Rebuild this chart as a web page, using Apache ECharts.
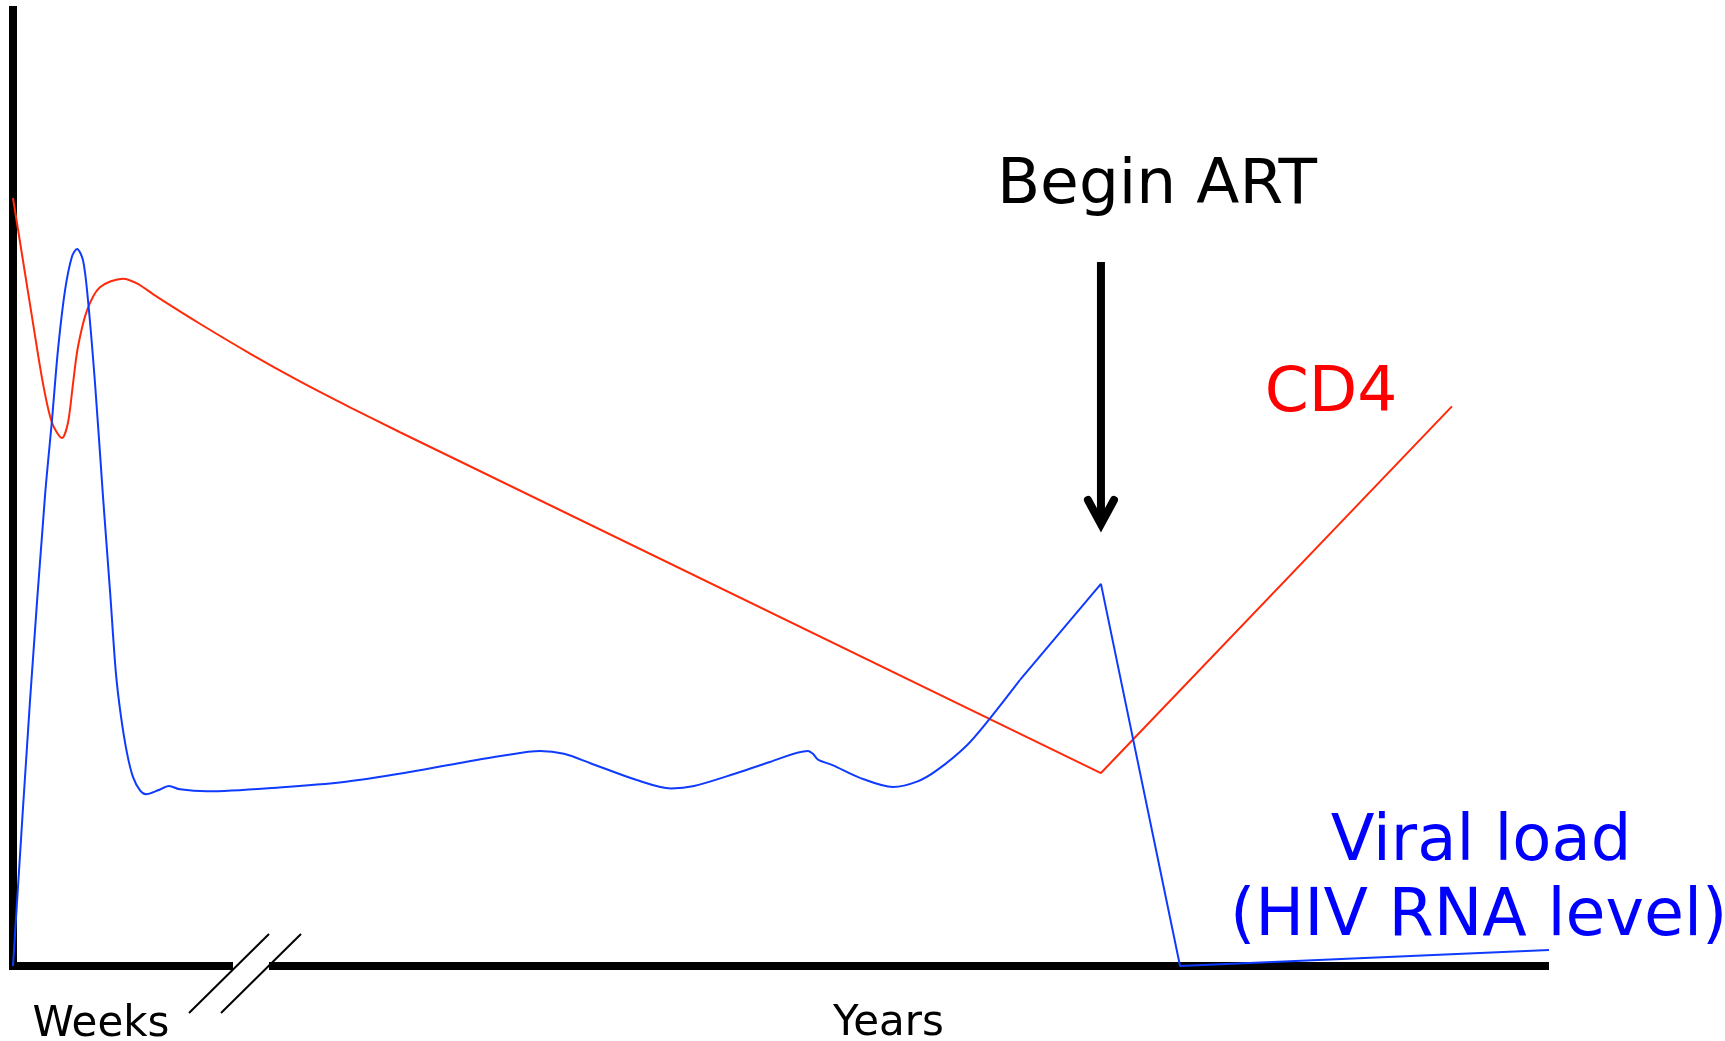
<!DOCTYPE html>
<html><head><meta charset="utf-8">
<script src="https://cdn.jsdelivr.net/npm/echarts@6/dist/echarts.min.js"></script>
<style>html,body{margin:0;padding:0;background:#fff}#c{width:1725px;height:1041px}</style>
</head><body><div id="c"></div>
<script>
// x: relative time (0..100), y: relative level (0..100)
const cd4Early = [[0,80.0],[1.30,67.0],[1.95,60.7],[2.54,56.6],[3.19,55.0],[3.58,56.6],[3.91,60.7],[4.23,64.5],[4.82,68.3],[5.66,70.7],[7.16,71.6],[8.07,71.1],[9.38,69.7],[12.17,66.9],[15.43,63.8],[18.68,60.9],[21.94,58.2],[25.20,55.6]];
const cd4Late = [[25.20,55.6],[70.83,20.1],[93.68,58.3]];
const viralEarly = [[0,0],[1.11,27.7],[2.08,48.9],[2.54,56.9],[2.93,64.2],[3.39,70.4],[3.84,73.9],[4.17,74.7],[4.56,73.5],[4.88,69.4],[5.34,60.7],[5.86,48.9],[6.32,39.0],[6.70,30.5],[7.03,26.0],[7.42,22.2],[7.81,19.7],[8.27,18.3],[8.66,17.9],[9.44,18.3],[10.16,18.75],[10.87,18.4],[12.63,18.2],[17.32,18.6],[21.68,19.2],[25.46,20.1],[28.91,21.1],[31.84,21.9],[34.31,22.4],[35.87,22.1],[37.63,21.1],[40.56,19.4],[42.84,18.5],[44.34,18.75],[46.94,20.0],[49.28,21.25],[51.76,22.4],[52.08,22.1],[52.41,21.5],[53.39,20.9],[55.14,19.6],[57.29,18.65],[58.85,19.2],[60.16,20.4],[62.11,23.0],[63.61,25.8],[65.56,29.8]];
const viralLate = [[65.56,29.8],[70.83,39.8],[75.98,0],[100,1.67]];
const xTickLabels = ['Weeks', 'Years'];
const xTickValues = [5.73, 57.0];
const artX = 70.83;
const artLabel = 'Begin ART';
const cd4Label = 'CD4';
const viralLabel = ['Viral load', '(HIV RNA level)'];

const FONT = '"DejaVu Sans", Verdana, sans-serif';
const chart = echarts.init(document.getElementById('c'), null, {renderer: 'canvas'});
const RED = '#ff2a0a', BLUE = '#0f3bff';
chart.setOption({
  animation: false,
  backgroundColor: '#fff',
  grid: {left: 9, right: 176, top: 6, bottom: 71},
  xAxis: {type: 'value', min: -0.26, max: 100,
    axisLine: {show: true, onZero: true, lineStyle: {color: '#000', width: 8, cap: 'butt'}},
    axisTick: {show: false}, axisLabel: {show: false}, splitLine: {show: false}},
  yAxis: {type: 'value', min: -0.417, max: 100,
    axisLine: {show: true, onZero: true, lineStyle: {color: '#000', width: 8, cap: 'butt'}},
    axisTick: {show: false}, axisLabel: {show: false}, splitLine: {show: false}},
  series: [
    {type: 'line', data: cd4Early, smooth: 0.3, symbol: 'none', lineStyle: {color: RED, width: 2}, z: 3},
    {type: 'line', data: cd4Late, smooth: false, symbol: 'none', lineStyle: {color: RED, width: 2}, z: 3},
    {type: 'line', data: viralEarly, smooth: 0.3, symbol: 'none', lineStyle: {color: BLUE, width: 2}, z: 4},
    {type: 'line', data: viralLate, smooth: false, symbol: 'none', lineStyle: {color: BLUE, width: 2}, z: 4}
  ]
});

const px = (x, y) => chart.convertToPixel({gridIndex: 0}, [x, y]);
const ax = px(artX, 0)[0];
const g = [];
// axis break
g.push({type: 'rect', shape: {x: 233, y: 960, width: 36, height: 12}, style: {fill: '#fff'}, z: 100});
g.push({type: 'line', shape: {x1: 189, y1: 1013, x2: 269, y2: 934}, style: {stroke: '#000', lineWidth: 2}, z: 101});
g.push({type: 'line', shape: {x1: 221, y1: 1013, x2: 301, y2: 934}, style: {stroke: '#000', lineWidth: 2}, z: 101});
// tick labels
const tickCy = [1025, 1024];
xTickLabels.forEach((t, i) => {
  g.push({type: 'text', x: px(xTickValues[i], 0)[0], y: tickCy[i], style: {text: t, font: '42px ' + FONT, fill: '#000', textAlign: 'center', textVerticalAlign: 'middle'}, z: 101});
});
// ART arrow
g.push({type: 'line', shape: {x1: ax, y1: 262, x2: ax, y2: 524}, style: {stroke: '#000', lineWidth: 8, lineCap: 'butt'}, z: 101});
g.push({type: 'polyline', shape: {points: [[ax - 13, 500], [ax, 524], [ax + 13, 500]]}, style: {stroke: '#000', fill: null, lineWidth: 8, lineCap: 'round', lineJoin: 'miter'}, z: 101});
g.push({type: 'text', x: 1157, y: 187, style: {text: artLabel, font: '63px ' + FONT, fill: '#000', textAlign: 'center', textVerticalAlign: 'middle'}, z: 101});
g.push({type: 'text', x: 1331, y: 395, style: {text: cd4Label, font: '63px ' + FONT, fill: '#ff0000', textAlign: 'center', textVerticalAlign: 'middle'}, z: 101});
g.push({type: 'text', x: 1481, y: 843, style: {text: viralLabel[0], font: '64px ' + FONT, fill: '#0000ff', textAlign: 'center', textVerticalAlign: 'middle'}, z: 101});
g.push({type: 'text', x: 1230, y: 918, style: {text: viralLabel[1], font: '65px ' + FONT, fill: '#0000ff', textAlign: 'left', textVerticalAlign: 'middle'}, z: 101});
chart.setOption({graphic: g});
</script></body></html>
